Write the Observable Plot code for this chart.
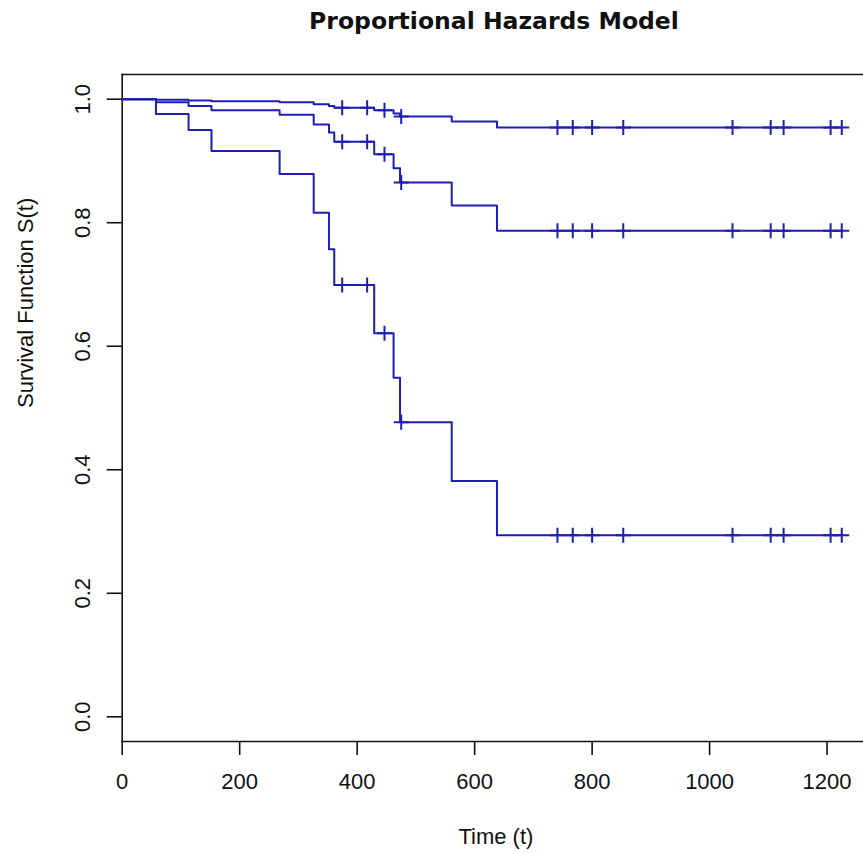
<!DOCTYPE html>
<html><head><meta charset="utf-8">
<script src="https://cdn.jsdelivr.net/npm/d3@7"></script>
<script src="https://cdn.jsdelivr.net/npm/@observablehq/plot@0.6"></script>
<style>
html,body{margin:0;padding:0;background:#fff;}
#wrap{position:relative;width:863px;height:854px;overflow:hidden;}
#title{position:absolute;left:0;top:10px;width:988px;text-align:center;font-family:"DejaVu Sans",sans-serif;font-weight:bold;font-size:23.5px;line-height:23.5px;color:#111;white-space:nowrap;}
#chart{position:absolute;left:0;top:0;}
</style>
</head><body>
<div id="wrap"><div id="chart"></div><div id="title">Proportional Hazards Model</div></div>
<script>
// Event (step) times shared by the three curves
const eventTimes = [0, 57.5, 113, 152, 268, 326, 352, 361, 429, 462, 473, 561, 638];
const lastTime = 1225;
// Survival at each step
const survHigh = [1, 0.999, 0.998, 0.9965, 0.995, 0.992, 0.989, 0.986, 0.982, 0.977, 0.972, 0.964, 0.954];
const survMid  = [1, 0.995, 0.989, 0.982, 0.975, 0.959, 0.946, 0.931, 0.911, 0.888, 0.865, 0.828, 0.787];
const survLow  = [1, 0.976, 0.950, 0.916, 0.879, 0.816, 0.757, 0.699, 0.621, 0.549, 0.477, 0.382, 0.294];
// Censoring times (same for every curve)
const censorTimes = [374.5, 417, 446.5, 475, 741, 767, 800, 853, 1039, 1104, 1126, 1206, 1225];
const xTicks = [0, 200, 400, 600, 800, 1000, 1200];
const yTicks = [0, 0.2, 0.4, 0.6, 0.8, 1.0];

const series = [["high", survHigh], ["mid", survMid], ["low", survLow]];
const lineRows = [];
const censorRows = [];
for (const [g, s] of series) {
  eventTimes.forEach((t, i) => lineRows.push({g, t, s: s[i]}));
  lineRows.push({g, t: lastTime, s: s[s.length - 1]});
  for (const c of censorTimes) {
    let k = 0;
    for (let i = 0; i < eventTimes.length; i++) if (eventTimes[i] <= c) k = i;
    censorRows.push({g, t: c, s: s[k]});
  }
}

const blue = "#1e1eb4";
const plusSym = {draw(ctx, size) {
  const r = Math.sqrt(size / Math.PI);
  ctx.moveTo(-r, 0); ctx.lineTo(r, 0);
  ctx.moveTo(0, -r); ctx.lineTo(0, r);
}};

const chart = Plot.plot({
  width: 863, height: 854,
  marginLeft: 121.7, marginRight: 0, marginTop: 74, marginBottom: 113,
  style: {fontFamily: "'Liberation Sans', Arial, sans-serif", fontSize: "22px", color: "#111", background: "white"},
  x: {domain: [0, 1262]},
  y: {domain: [-0.04, 1.04]},
  marks: [
    Plot.frame({anchor: "top", stroke: "#111", strokeWidth: 1.6}),
    Plot.frame({anchor: "bottom", stroke: "#111", strokeWidth: 1.6}),
    Plot.frame({anchor: "left", stroke: "#111", strokeWidth: 1.6}),
    Plot.axisX({ticks: xTicks, tickSize: 14, tickPadding: 18, tickFormat: d3.format("d"), label: null, fontSize: 22, strokeWidth: 1.6}),
    Plot.axisY({ticks: yTicks, tickSize: 15, tickRotate: -90, tickPadding: 17, tickFormat: d3.format(".1f"), label: null, fontSize: 22, strokeWidth: 1.6}),
    Plot.text(["Time (t)"], {frameAnchor: "bottom", dx: 3, dy: 102, fontSize: 22, fill: "#111"}),
    Plot.text(["Survival Function S(t)"], {frameAnchor: "left", rotate: -90, dx: -96, fontSize: 22, fill: "#111"}),
    Plot.line(lineRows, {x: "t", y: "s", z: "g", curve: "step-after", stroke: blue, strokeWidth: 2}),
    Plot.dot(censorRows, {x: "t", y: "s", symbol: plusSym, r: 7.5, stroke: blue, strokeWidth: 2, fill: "none"})
  ]
});
document.getElementById("chart").appendChild(chart);
</script>
</body></html>
